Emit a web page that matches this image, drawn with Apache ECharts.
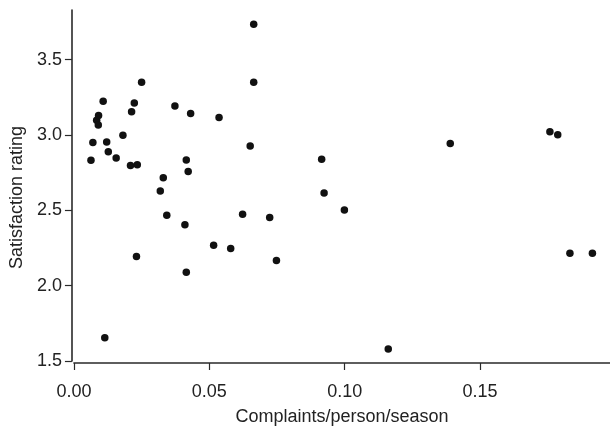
<!DOCTYPE html>
<html>
<head>
<meta charset="utf-8">
<script src="https://cdn.jsdelivr.net/npm/echarts@6/dist/echarts.min.js"></script>
<style>
html,body{margin:0;padding:0;background:#fff;}
#chart{width:610px;height:431px;}
</style>
</head>
<body>
<div id="chart"></div>
<script>
// Data
const complaints = [0.0063, 0.0070, 0.0084, 0.0091, 0.0090, 0.0108, 0.0121, 0.0127, 0.0156, 0.0181,
  0.0209, 0.0234, 0.0213, 0.0223, 0.0250, 0.0373, 0.0431, 0.0415, 0.0422, 0.0330,
  0.0319, 0.0343, 0.0410, 0.0231, 0.0415, 0.0114, 0.0664, 0.0664, 0.0536, 0.0651,
  0.0915, 0.0924, 0.0516, 0.0579, 0.0623, 0.0723, 0.0748, 0.0999, 0.1390, 0.1758,
  0.1787, 0.1832, 0.1915, 0.1161];
const ratings = [2.833, 2.950, 3.098, 3.130, 3.067, 3.224, 2.954, 2.889, 2.848, 2.998,
  2.798, 2.802, 3.154, 3.213, 3.350, 3.193, 3.143, 2.835, 2.758, 2.717,
  2.628, 2.467, 2.404, 2.193, 2.089, 1.654, 3.735, 3.350, 3.117, 2.928,
  2.839, 2.615, 2.269, 2.246, 2.474, 2.452, 2.167, 2.502, 2.943, 3.022,
  3.002, 2.215, 2.215, 1.580];
const xTicks = [0, 0.05, 0.10, 0.15];
const yTicks = [1.5, 2.0, 2.5, 3.0, 3.5];
const xTitle = 'Complaints/person/season';
const yTitle = 'Satisfaction rating';

const points = complaints.map((c, i) => [c, ratings[i]]);
const font = 'Liberation Sans, Arial, Helvetica, sans-serif';
const axisColor = '#2a2a2a';
const textColor = '#222';

const chart = echarts.init(document.getElementById('chart'), null, {renderer: 'canvas'});
chart.setOption({
  animation: false,
  backgroundColor: '#fff',
  grid: {left: 73, right: 0, top: 10, bottom: 65, containLabel: false},
  xAxis: {
    type: 'value', min: 0, max: 0.198, offset: 2,
    name: xTitle, nameLocation: 'middle', nameGap: 45,
    nameTextStyle: {fontFamily: font, fontSize: 18, color: textColor},
    axisLine: {show: true, onZero: false, lineStyle: {color: axisColor, width: 1.6}},
    axisTick: {show: true, length: 7, customValues: xTicks, lineStyle: {color: axisColor, width: 1.2}},
    axisLabel: {customValues: xTicks, margin: 20, fontFamily: font, fontSize: 18, color: textColor,
      formatter: v => v.toFixed(2)},
    splitLine: {show: false}
  },
  yAxis: {
    type: 'value', min: 1.5, max: 3.83, offset: 2,
    name: yTitle, nameLocation: 'middle', nameGap: 44,
    nameTextStyle: {fontFamily: font, fontSize: 18, color: textColor, padding: [0, 24, 0, 0]},
    axisLine: {show: true, onZero: false, lineStyle: {color: axisColor, width: 1.6}},
    axisTick: {show: true, length: 7, customValues: yTicks, lineStyle: {color: axisColor, width: 1.2}},
    axisLabel: {customValues: yTicks, margin: 10, fontFamily: font, fontSize: 18, color: textColor,
      formatter: v => v.toFixed(1)},
    splitLine: {show: false}
  },
  series: [{
    type: 'scatter',
    data: points,
    symbol: 'circle',
    symbolSize: 7.5,
    itemStyle: {color: '#111', opacity: 1}
  }]
});
</script>
</body>
</html>
